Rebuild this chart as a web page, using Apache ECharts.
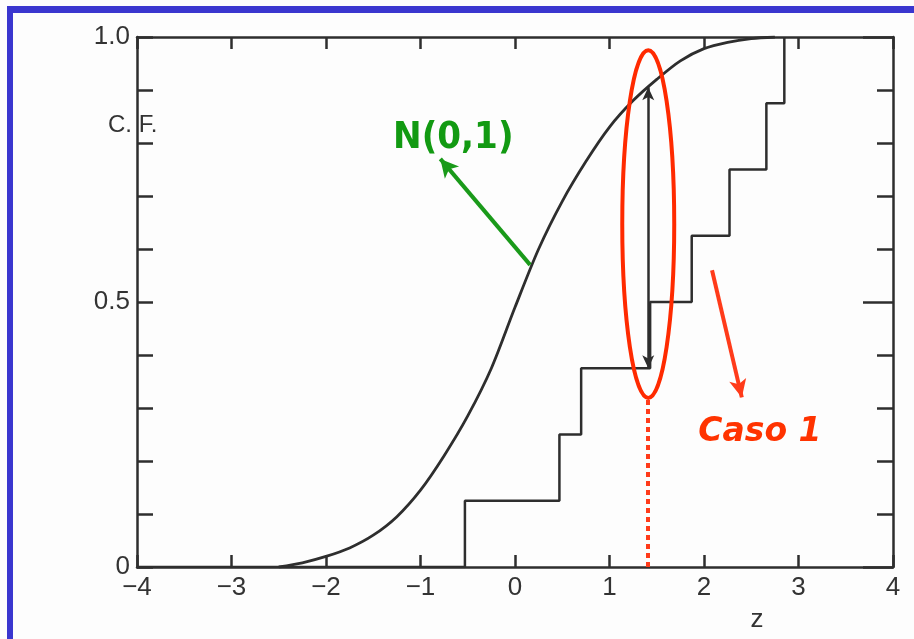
<!DOCTYPE html>
<html>
<head>
<meta charset="utf-8">
<script src="https://cdn.jsdelivr.net/npm/echarts@6/dist/echarts.min.js"></script>
<style>
html,body{margin:0;padding:0;background:#fdfdfd;}
#c{width:914px;height:639px;}
</style>
</head>
<body>
<div id="c"></div>
<script>
// ---- data ----
const zTicks = [-4, -3, -2, -1, 0, 1, 2, 3, 4];
const cfTickLabels = ['0', '0.5', '1.0'];
// empirical (sample) cumulative frequency: jump positions and levels
const stepZ = [-4, -0.53, 0.47, 0.70, 1.43, 1.87, 2.27, 2.66, 2.85];
const stepF = [0, 0.125, 0.25, 0.375, 0.5, 0.625, 0.75, 0.875, 1.0];
// N(0,1) cumulative curve
const curveZ = [-2.5, -2.25, -2.0, -1.75, -1.5, -1.25, -1.0, -0.75, -0.5, -0.25, 0, 0.25, 0.5, 0.75, 1.0, 1.25, 1.5, 1.75, 2.0, 2.25, 2.5, 2.75];
const curveF = [0, 0.008, 0.02, 0.036, 0.06, 0.095, 0.145, 0.21, 0.285, 0.375, 0.49, 0.6, 0.69, 0.765, 0.83, 0.88, 0.92, 0.955, 0.978, 0.99, 0.997, 1.0];
// annotations (data coordinates)
const gapZ = 1.41, gapLow = 0.375, gapHigh = 0.905;
const dottedTop = 0.315;
const arrowNormal = [[0.16, 0.57], [-0.79, 0.77]];
const arrowCase = [[2.085, 0.56], [2.40, 0.32]];
const ellipseC = [1.41, 0.647], ellipseR = [0.275, 0.328];
const labelNormal = {text: 'N(0,1)', at: [-1.29, 0.81]};
const labelCase = {text: 'Caso 1', at: [1.94, 0.253]};

const INK = '#2e2e2e';
const chart = echarts.init(document.getElementById('c'), null, {renderer: 'canvas'});

const stepData = stepZ.map((z, i) => [z, stepF[i]]);
const curveData = curveZ.map((z, i) => [z, curveF[i]]);

const axisLine = {show: true, onZero: false, lineStyle: {color: INK, width: 2.5}};
const option = {
  animation: false,
  backgroundColor: '#fdfdfd',
  grid: {left: 137, right: 21, top: 37, bottom: 72},
  xAxis: [
    {
      type: 'value', min: -4, max: 4, interval: 1, position: 'bottom',
      axisLine: axisLine,
      axisTick: {show: true, inside: true, length: 12, lineStyle: {color: INK, width: 2.5}},
      axisLabel: {
        color: '#333', fontSize: 26, fontFamily: 'Liberation Sans', margin: 8,
        formatter: v => String(zTicks.find(t => Math.abs(t - v) < 1e-9) ?? v).replace('-', '\u2212')
      },
      splitLine: {show: false}
    },
    {
      type: 'value', min: -4, max: 4, interval: 1, position: 'top',
      axisLine: axisLine,
      axisTick: {show: true, inside: true, length: 12, lineStyle: {color: INK, width: 2.5}},
      axisLabel: {show: false},
      splitLine: {show: false}
    }
  ],
  yAxis: [
    {
      type: 'value', min: 0, max: 1, interval: 0.5, position: 'left',
      axisLine: axisLine,
      axisTick: {show: true, inside: true, length: 16, lineStyle: {color: INK, width: 2.5}},
      minorTick: {show: true, splitNumber: 5, length: 16, lineStyle: {color: INK, width: 2.5}},
      axisLabel: {
        color: '#333', fontSize: 26, fontFamily: 'Liberation Sans', margin: 7,
        formatter: v => cfTickLabels[Math.round(v * 2)]
      },
      splitLine: {show: false}, minorSplitLine: {show: false}
    },
    {
      type: 'value', min: 0, max: 1, interval: 0.5, position: 'right',
      axisLine: axisLine,
      axisTick: {show: true, inside: true, length: 30, lineStyle: {color: INK, width: 2.5}},
      minorTick: {show: true, splitNumber: 5, length: 16, lineStyle: {color: INK, width: 2.5}},
      axisLabel: {show: false},
      splitLine: {show: false}, minorSplitLine: {show: false}
    }
  ],
  series: [
    {
      type: 'line', name: 'sample', data: stepData, step: 'end',
      showSymbol: false, symbol: 'none',
      lineStyle: {color: INK, width: 2.5}, z: 3
    },
    {
      type: 'line', name: 'N(0,1)', data: curveData, smooth: 0.3,
      showSymbol: false, symbol: 'none',
      lineStyle: {color: INK, width: 2.8}, z: 3
    },
    {
      type: 'line', name: 'annotations', data: [], z: 5,
      markLine: {
        silent: true, animation: false,
        label: {show: false},
        data: [
          [
            {coord: [gapZ, gapLow], symbol: 'arrow', symbolSize: [9, 13], lineStyle: {color: INK, width: 2.5, type: 'solid'}},
            {coord: [gapZ, gapHigh], symbol: 'arrow', symbolSize: [9, 13]}
          ],
          [
            {coord: [gapZ, 0], symbol: 'none', lineStyle: {color: '#ff3b1a', width: 4, type: [5, 4]}},
            {coord: [gapZ, dottedTop], symbol: 'none'}
          ],
          [
            {coord: arrowNormal[0], symbol: 'none', lineStyle: {color: '#1a9a1a', width: 4, type: 'solid'}},
            {coord: arrowNormal[1], symbol: 'arrow', symbolSize: [14, 18]}
          ],
          [
            {coord: arrowCase[0], symbol: 'none', lineStyle: {color: '#ff3b1a', width: 4, type: 'solid'}},
            {coord: arrowCase[1], symbol: 'arrow', symbolSize: [13, 18]}
          ]
        ]
      }
    }
  ]
};
chart.setOption(option);

const P = c => chart.convertToPixel({gridIndex: 0}, c);
const ec = P(ellipseC);
const er = P([ellipseC[0] + ellipseR[0], ellipseC[1] + ellipseR[1]]);
const ln = P(labelNormal.at);
const lc = P(labelCase.at);

chart.setOption({
  graphic: [
    {type: 'rect', shape: {x: 7, y: 6, width: 907, height: 7}, style: {fill: '#3a36cf'}, z: 100},
    {type: 'rect', shape: {x: 7, y: 6, width: 6, height: 633}, style: {fill: '#3a36cf'}, z: 100},
    {type: 'ellipse', shape: {cx: ec[0], cy: ec[1], rx: er[0] - ec[0], ry: ec[1] - er[1]},
      style: {fill: 'none', stroke: '#ff2a00', lineWidth: 4}, z: 50},
    {type: 'text', x: ln[0], y: ln[1], z: 50,
      style: {text: labelNormal.text, fill: '#129a12', font: 'bold 38px "DejaVu Sans Condensed"',
        verticalAlign: 'middle', textVerticalAlign: 'middle'}},
    {type: 'text', x: lc[0], y: lc[1], z: 50,
      style: {text: labelCase.text, fill: '#ff3300', font: 'italic bold 33px "DejaVu Sans"',
        verticalAlign: 'middle', textVerticalAlign: 'middle'}},
    {type: 'text', x: 108, y: 125, z: 50,
      style: {text: 'C. F.', fill: '#333', font: '24px "Liberation Sans"',
        verticalAlign: 'middle', textVerticalAlign: 'middle'}},
    {type: 'text', x: 757, y: 620, z: 50,
      style: {text: 'z', fill: '#333', font: '26px "Liberation Sans"',
        align: 'center', textAlign: 'center', verticalAlign: 'middle', textVerticalAlign: 'middle'}}
  ]
});
</script>
</body>
</html>
